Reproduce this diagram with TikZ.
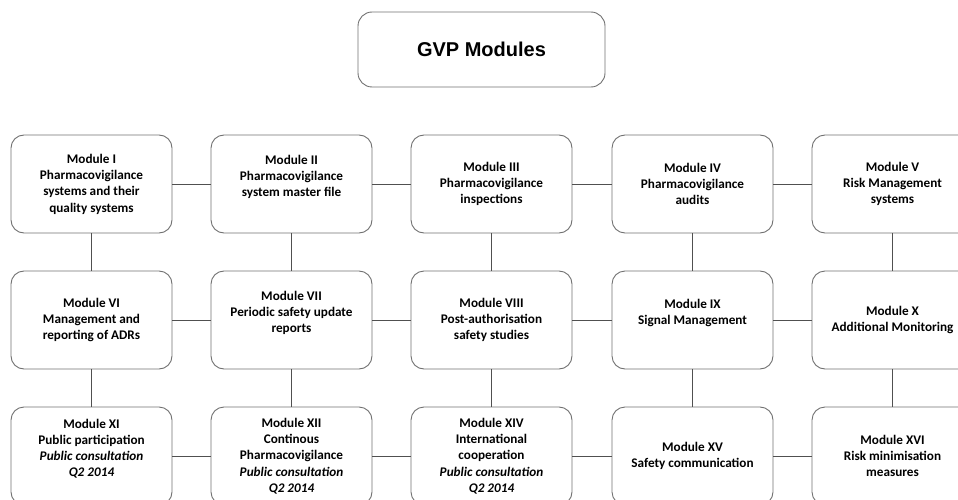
\documentclass[tikz,border=0pt]{standalone}
\usepackage{fontspec}
\setmainfont{Carlito}
\newfontfamily\titlefont{Liberation Sans}
\definecolor{boxgray}{RGB}{112,112,112}
\definecolor{linegray}{RGB}{80,80,80}
\tikzset{
	module/.style = {draw = boxgray, line width = 0.9pt, rounded corners = 13pt,
		minimum width = 161pt, minimum height = 98pt, inner sep = 0pt, align = center,
		font = \fontsize{13.2}{16.3}\selectfont\bfseries},
	heading/.style = {draw = boxgray, line width = 0.9pt, rounded corners = 14pt,
		minimum width = 247pt, minimum height = 75pt, inner sep = 0pt,
		font = \titlefont\fontsize{20}{24}\selectfont\bfseries},
	link/.style = {draw = linegray, line width = 0.9pt}
}
\begin{document}
\begin{tikzpicture} [x = 1pt, y = -1pt]
	\useasboundingbox (0,0) rectangle (958,500);
	\clip (0,0) rectangle (958,500);
	\node [heading] (title) at (481.5,49.5) {GVP Modules};
	% first row
	\node [module] (m1) at (91.5,184) {Module I\\Pharmacovigilance\\systems and their\\quality systems};
	\node [module] (m2) at (291.5,184) {Module II\\Pharmacovigilance\\system master file\\\mbox{}};
	\node [module] (m3) at (491.5,184) {Module III\\Pharmacovigilance\\inspections};
	\node [module] (m4) at (692.5,184) {Module IV\\Pharmacovigilance\\audits};
	\node [module] (m5) at (892.5,184) {Module V\\Risk Management\\systems};
	% second row
	\node [module] (m6) at (91.5,320) {Module VI\\Management and\\reporting of ADRs};
	\node [module] (m7) at (291.5,320) {Module VII\\Periodic safety update\\reports\\\mbox{}};
	\node [module] (m8) at (491.5,320) {Module VIII\\Post-authorisation\\safety studies};
	\node [module] (m9) at (692.5,320) {Module IX\\Signal Management\\\mbox{}};
	\node [module] (m10) at (892.5,320) {Module X\\Additional Monitoring};
	% third row
	\node [module] (m11) at (91.5,456) {Module XI\\Public participation\\\textit{Public consultation}\\\textit{Q2 2014}\\\mbox{}};
	\node [module] (m12) at (291.5,456) {Module XII\\Continous\\Pharmacovigilance\\\textit{Public consultation}\\\textit{Q2 2014}};
	\node [module] (m14) at (491.5,456) {Module XIV\\International\\cooperation\\\textit{Public consultation}\\\textit{Q2 2014}};
	\node [module] (m15) at (692.5,456) {Module XV\\Safety communication};
	\node [module] (m16) at (892.5,456) {Module XVI\\Risk minimisation\\measures};
	% links along the rows
	\draw [link] (m1) -- (m2);
	\draw [link] (m2) -- (m3);
	\draw [link] (m3) -- (m4);
	\draw [link] (m4) -- (m5);
	\draw [link] (m6) -- (m7);
	\draw [link] (m7) -- (m8);
	\draw [link] (m8) -- (m9);
	\draw [link] (m9) -- (m10);
	\draw [link] (m11) -- (m12);
	\draw [link] (m12) -- (m14);
	\draw [link] (m14) -- (m15);
	\draw [link] (m15) -- (m16);
	% links down the columns
	\draw [link] (m1) -- (m6);
	\draw [link] (m2) -- (m7);
	\draw [link] (m3) -- (m8);
	\draw [link] (m4) -- (m9);
	\draw [link] (m5) -- (m10);
	\draw [link] (m6) -- (m11);
	\draw [link] (m7) -- (m12);
	\draw [link] (m8) -- (m14);
	\draw [link] (m9) -- (m15);
	\draw [link] (m10) -- (m16);
\end{tikzpicture}
\end{document}
